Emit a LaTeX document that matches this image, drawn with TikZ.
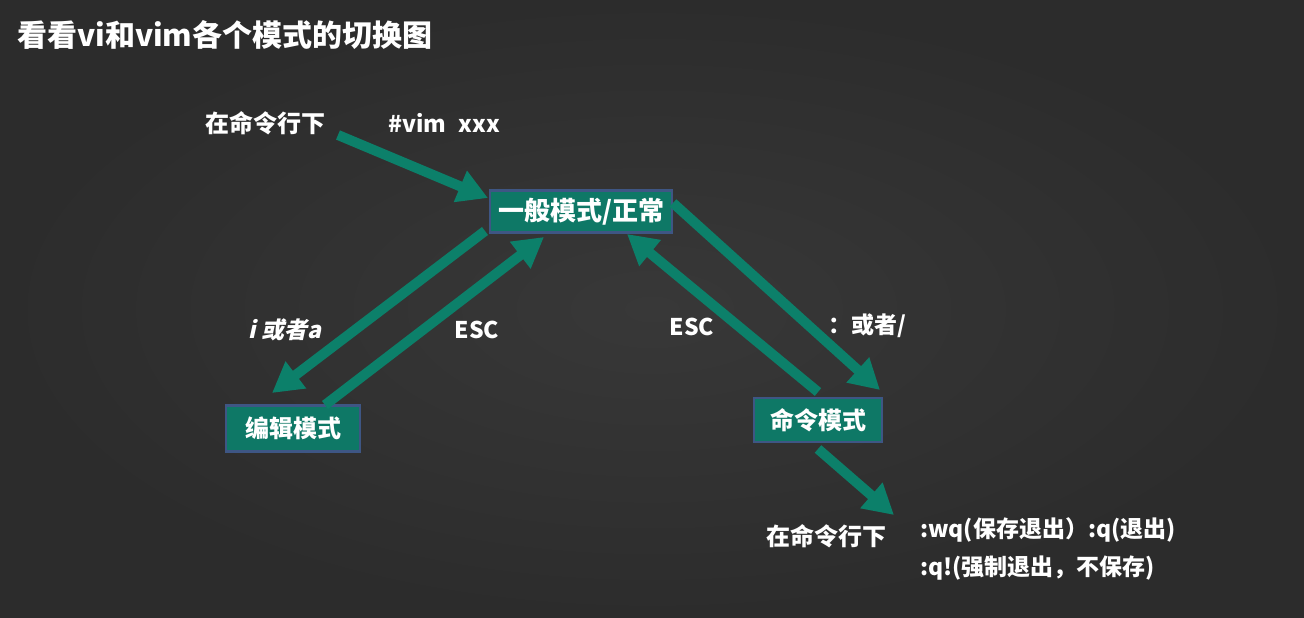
\documentclass[tikz,border=0pt]{standalone}
\usepackage{fontspec}
\setmainfont{Noto Sans CJK SC}
\newfontfamily\slfont{Noto Sans CJK SC}[FakeSlant=0.22]
\usetikzlibrary{arrows.meta}
\definecolor{board}{RGB}{44,44,44}
\definecolor{boardin}{RGB}{56,56,56}
\definecolor{teal}{RGB}{12,128,106}
\definecolor{boxfill}{RGB}{14,120,102}
\definecolor{boxedge}{RGB}{62,86,132}
\tikzset{
  lbl/.style={text=white,font=\bfseries\fontsize{23}{26}\selectfont,inner sep=0pt},
  modebox/.style={draw=boxedge,line width=2.5pt,fill=boxfill,text=white,
     font=\bfseries\fontsize{24}{28}\selectfont,inner sep=0pt},
  garrow/.style={draw=teal,line width=10pt,-{Triangle[length=30pt,width=32pt]}}
}
\begin{document}
\begin{tikzpicture}[x=1pt,y=-1pt]
\useasboundingbox (0,0) rectangle (1304,618);
\fill[inner color=boardin,outer color=board] (0,0) rectangle (1304,618);
% title
\node[lbl,anchor=west,font=\bfseries\fontsize{30}{34}\selectfont] (title) at (17,35) {看看vi和vim各个模式的切换图};
% top labels
\node[lbl,font=\bfseries\fontsize{24}{28}\selectfont] (cmdA) at (265,123) {在命令行下};
\node[lbl,anchor=west] (vim) at (388,123) {\#vim\hspace{0.55em}xxx};
% boxes
\node[modebox,minimum width=182pt,minimum height=42pt,font=\bfseries\fontsize{26}{30}\selectfont] (gen) at (581,211.5) {一般模式/正常};
\node[modebox,minimum width=134pt,minimum height=46pt] (edit) at (293,428.5) {编辑模式};
\node[modebox,minimum width=128pt,minimum height=44pt] (cmd) at (818,420) {命令模式};
% arrow labels
\node[lbl] (ia) at (285,330) {\slfont\bfseries i 或者a};
\node[lbl] (esc1) at (477,330) {ESC};
\node[lbl] (esc2) at (692,327) {ESC};
\node[lbl] (colon) at (867,326) {：或者/};
% bottom
\node[lbl,font=\bfseries\fontsize{24}{28}\selectfont] (cmdB) at (826,536) {在命令行下};
\node[lbl,anchor=west] (wq) at (920,530) {:wq(保存退出）:q(退出)};
\node[lbl,anchor=west] (qq) at (920,568) {:q!(强制退出，不保存)};
% connector end points
\coordinate (a1s) at (338,135);
\coordinate (a1e) at (488,198);
\coordinate (a2s) at (485,231);
\coordinate (a2e) at (272,393);
\coordinate (a3s) at (325,405);
\coordinate (a3e) at (544,237);
\coordinate (a4s) at (673,203);
\coordinate (a4e) at (880,390);
\coordinate (a5s) at (818,392);
\coordinate (a5e) at (627,234);
\coordinate (a6s) at (818,449);
\coordinate (a6e) at (894,515);
\draw[garrow] (a1s) -- (a1e);
\draw[garrow] (a2s) -- (a2e);
\draw[garrow] (a3s) -- (a3e);
\draw[garrow] (a4s) -- (a4e);
\draw[garrow] (a5s) -- (a5e);
\draw[garrow] (a6s) -- (a6e);
\end{tikzpicture}
\end{document}
